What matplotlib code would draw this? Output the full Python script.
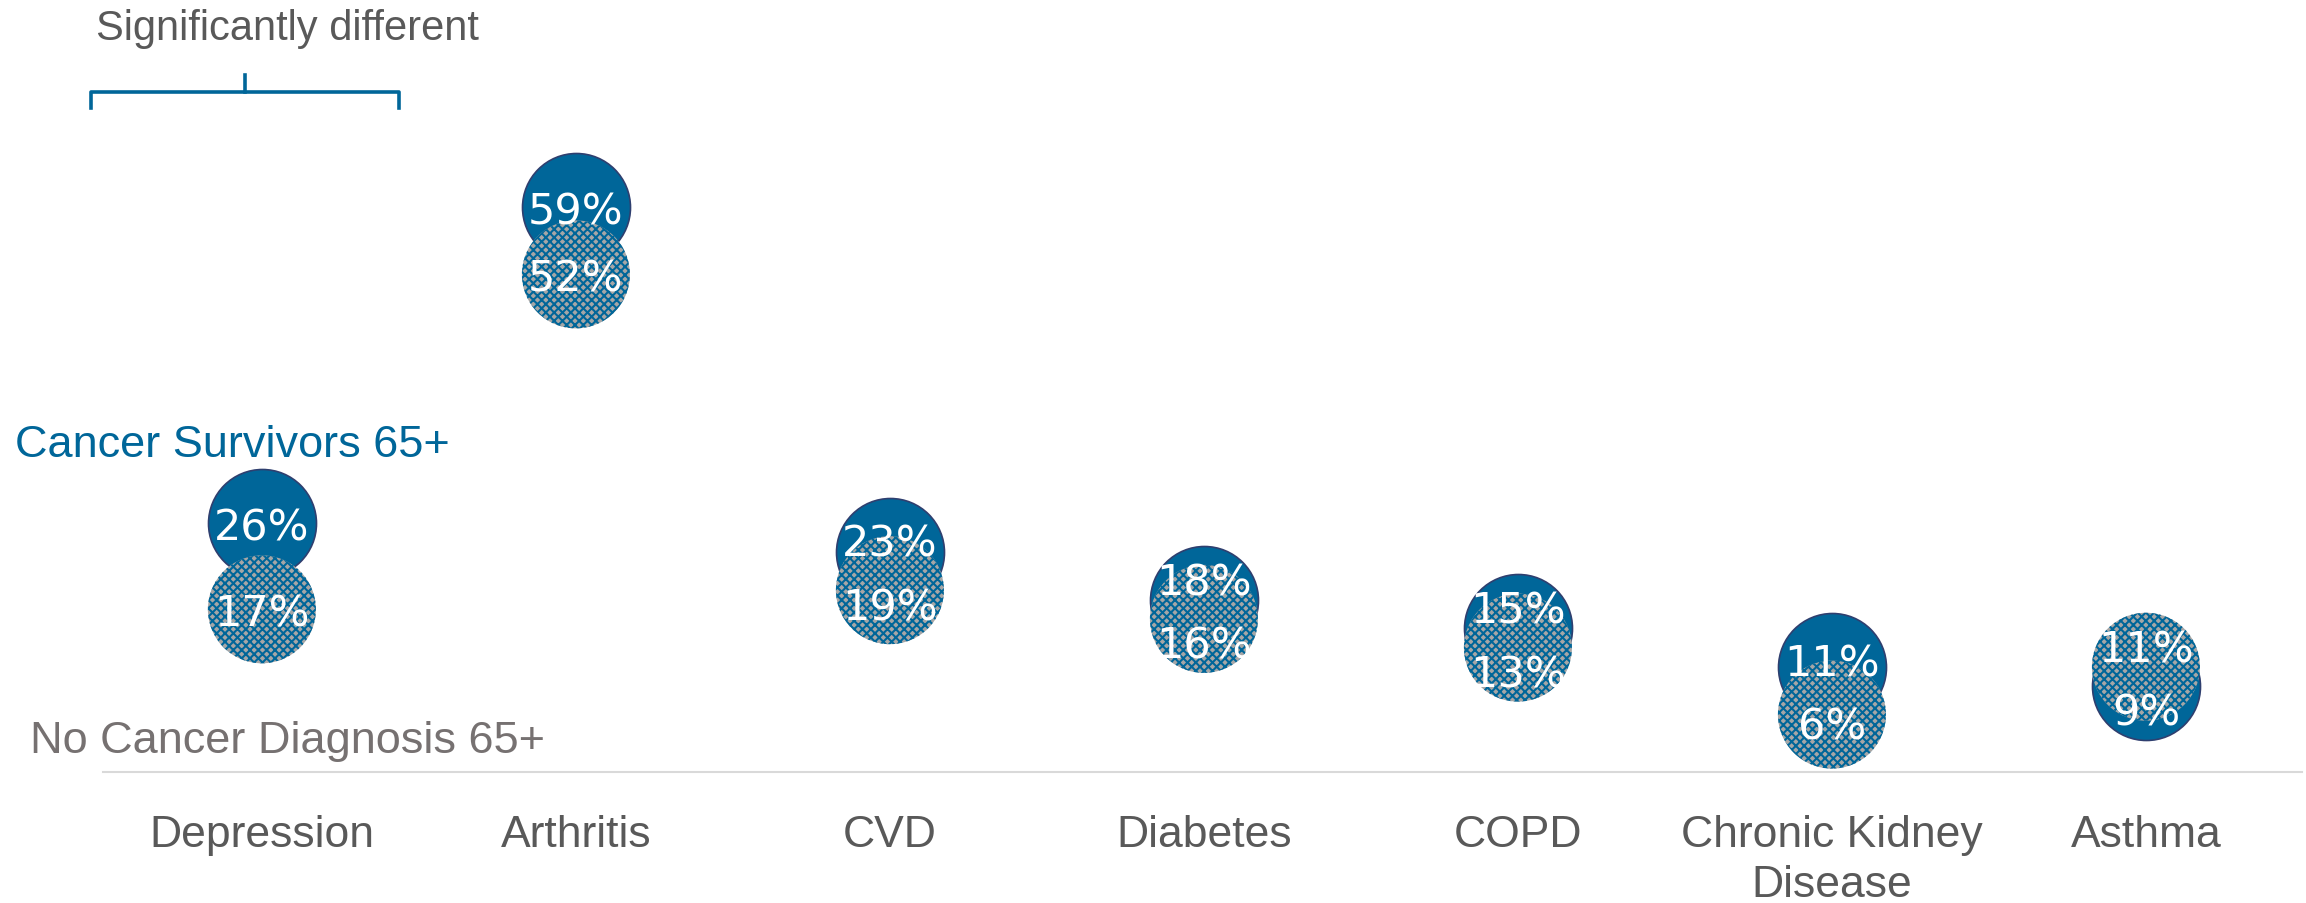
"""Dot comparison of chronic conditions: cancer survivors 65+ vs no cancer diagnosis 65+."""

from matplotlib import pyplot as plt
import numpy as np

categories = ["Depression", "Arthritis", "CVD", "Diabetes", "COPD",
              "Chronic Kidney\nDisease", "Asthma"]
survivors = [26, 59, 23, 18, 15, 11, 9]
no_cancer = [17, 52, 19, 16, 13, 6, 11]

BLUE = "#006699"
EDGE = "#2f3f6f"
GRAY_FILL = "#a6a6a6"
TEXT_GRAY = "#595959"
LEGEND_GRAY = "#767171"

W, H = 2306, 904
plt.rcParams["font.family"] = ["Liberation Sans", "DejaVu Sans"]
plt.rcParams["hatch.color"] = BLUE
plt.rcParams["hatch.linewidth"] = 1.5

fig = plt.figure(figsize=(W / 100, H / 100), dpi=100)
ax = fig.add_axes([103 / W, 1 - 773 / H, 2199 / W, 689 / H])

x = np.arange(len(categories))
size = (108 * 72 / 100) ** 2

ax.scatter(x, survivors, s=size, color=BLUE, edgecolor=EDGE, linewidth=1.2,
           zorder=3, clip_on=False)
ax.scatter(x, no_cancer, s=size, facecolor=GRAY_FILL, edgecolor="none",
           linewidth=0, hatch="xxxx", zorder=4, clip_on=False)

# push labels apart when the two circles sit close together
min_gap = 6.6
for xi, a, b in zip(x, survivors, no_cancer):
    ya, yb = float(a), float(b)
    if abs(a - b) < min_gap:
        mid = (a + b) / 2
        sign = 1 if a >= b else -1
        ya = mid + sign * min_gap / 2
        yb = mid - sign * min_gap / 2
    for yv, val in ((ya, a), (yb, b)):
        ax.text(xi, yv, f"{val}%", ha="center", va="center_baseline",
                color="white", fontsize=31, family="DejaVu Sans", zorder=5)

ax.set_xlim(-0.506, 6.497)
ax.set_ylim(0, 72)
ax.set_xticks(x)
ax.set_xticklabels(categories, fontsize=32, color=TEXT_GRAY, linespacing=1.3)
ax.tick_params(axis="x", length=0, pad=30)
ax.set_yticks([])
for side in ("top", "right", "left"):
    ax.spines[side].set_visible(False)
ax.spines["bottom"].set_color("#d9d9d9")
ax.spines["bottom"].set_linewidth(1.5)

# legend-style labels
fig.text(15 / W, 1 - 457 / H, "Cancer Survivors 65+", color=BLUE,
         fontsize=32.5, va="baseline", ha="left")
fig.text(30 / W, 1 - 753 / H, "No Cancer Diagnosis 65+", color=LEGEND_GRAY,
         fontsize=32.5, va="baseline", ha="left")

# significance key
fig.text(96 / W, 1 - 40 / H, "Significantly different", color=TEXT_GRAY,
         fontsize=30, va="baseline", ha="left")
bx = np.array([91, 91, 399, 399]) / W
by = 1 - np.array([109, 93, 93, 109]) / H
fig.add_artist(plt.Line2D(bx, by, color=BLUE, lw=2.6))
fig.add_artist(plt.Line2D([245 / W, 245 / W], [1 - 93 / H, 1 - 76 / H],
                          color=BLUE, lw=2.6))

fig.savefig("out.png", dpi=100, facecolor="white")
